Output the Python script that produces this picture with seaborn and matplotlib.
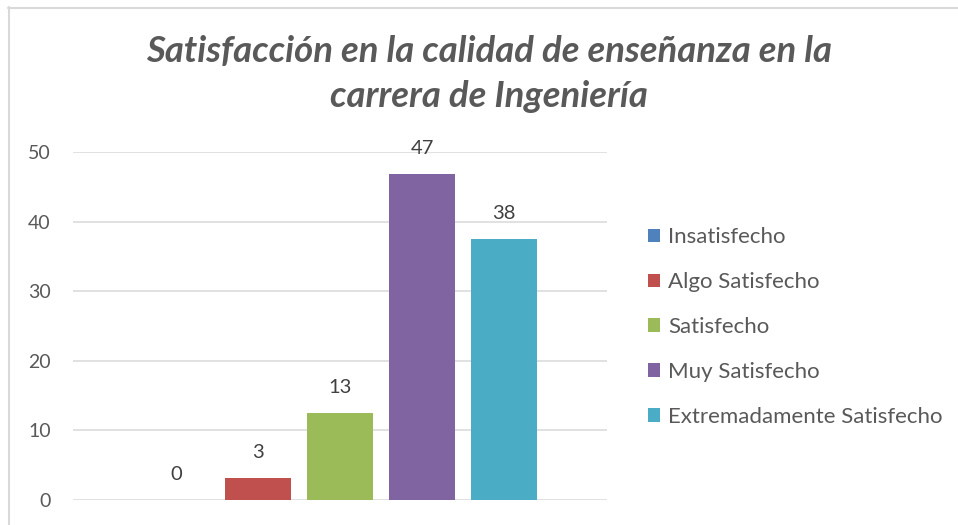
import matplotlib
matplotlib.use("Agg")
import matplotlib.pyplot as plt
import seaborn as sns
from matplotlib.lines import Line2D

# datos (porcentajes sobre 32 respuestas)
categorias = ["Insatisfecho", "Algo Satisfecho", "Satisfecho",
              "Muy Satisfecho", "Extremadamente Satisfecho"]
valores = [0, 3.125, 12.5, 46.875, 37.5]
colores = ["#4F81BD", "#C0504D", "#9BBB59", "#8064A2", "#4BACC6"]
y_ticks = [0, 10, 20, 30, 40, 50]
titulo = "Satisfacción en la calidad de enseñanza en la\ncarrera de Ingeniería"

sns.set_style("white")
plt.rcParams['font.family'] = ['Lato', 'DejaVu Sans']

fig = plt.figure(figsize=(9.58, 5.25), dpi=100)
ax = fig.add_axes([73 / 958, 25 / 525, 534 / 958, 348 / 525])

sns.barplot(x=categorias, y=valores, hue=categorias, palette=colores,
            order=categorias, hue_order=categorias, width=0.793,
            saturation=1, linewidth=0, legend=True, ax=ax)

# etiquetas de datos
for i, v in enumerate(valores):
    ax.annotate(str(int(v + 0.5)), (i, v), xytext=(0, 18.5), textcoords='offset points',
                ha='center', va='center', fontsize=14.5, color='#404040')

ax.set_xlim(-1.256, 5.256)
ax.set_ylim(0, 50)
ax.set_yticks(y_ticks)
ax.set_yticklabels([str(t) for t in y_ticks])
ax.set_xticks([])
ax.tick_params(axis='y', length=0, pad=16, labelsize=14, labelcolor='#595959')
ax.grid(axis='y', color='#D9D9D9', linewidth=1.1)
ax.set_axisbelow(True)
for s in ax.spines.values():
    s.set_visible(False)
ax.set_xlabel('')
ax.set_ylabel('')

# leyenda a la derecha
handles, labels = ax.get_legend_handles_labels()
ax.legend_.remove()
fig.legend(handles, labels, loc='center left', bbox_to_anchor=(648 / 958, 1 - 327 / 525),
           frameon=False, fontsize=16, labelcolor='#595959', borderaxespad=0, borderpad=0,
           handlelength=0.55, handleheight=0.55, handletextpad=0.36, labelspacing=1.12)

fig.text(489 / 958, 1 - 74 / 525, titulo, ha='center', va='center', fontsize=26.3,
         style='italic', fontweight='bold', color='#595959', linespacing=1.42)

# borde del area del grafico
fig.add_artist(Line2D([8 / 958, 1], [1 - 7.5 / 525] * 2, color='#D9D9D9', lw=1.5))
fig.add_artist(Line2D([8.5 / 958] * 2, [0, 1 - 7 / 525], color='#D9D9D9', lw=1.5))

fig.savefig("out.png", dpi=100)
